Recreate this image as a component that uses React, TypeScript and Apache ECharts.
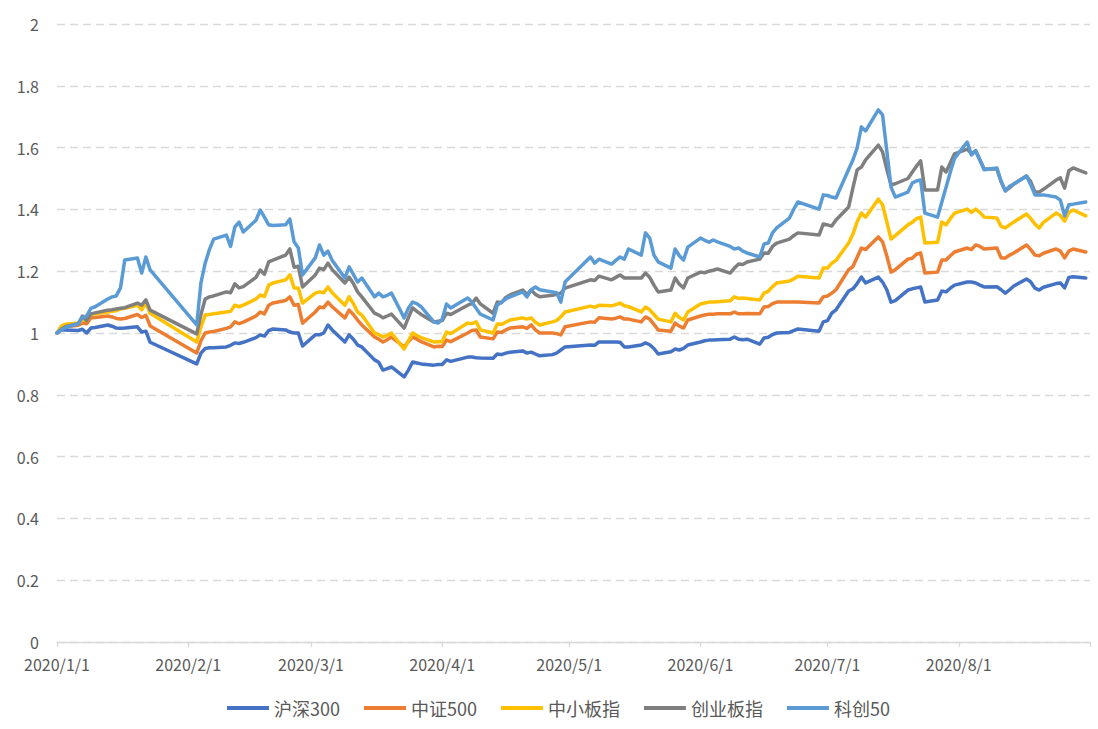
import React, { useEffect, useRef } from "react";
import * as echarts from "echarts";

const seriesNames = ["沪深300", "中证500", "中小板指", "创业板指", "科创50"];
const seriesColors = ["#4472C4", "#ED7D31", "#FFC000", "#7F7F7F", "#5B9BD5"];

const tradeDates = [
  "2020/1/1", "2020/1/2", "2020/1/3", "2020/1/6", "2020/1/7", "2020/1/8", "2020/1/9", "2020/1/10",
  "2020/1/13", "2020/1/14", "2020/1/15", "2020/1/16", "2020/1/17", "2020/1/20", "2020/1/21", "2020/1/22",
  "2020/1/23",
  "2020/2/3", "2020/2/4", "2020/2/5", "2020/2/6", "2020/2/7", "2020/2/10", "2020/2/11", "2020/2/12",
  "2020/2/13", "2020/2/14", "2020/2/17", "2020/2/18", "2020/2/19", "2020/2/20", "2020/2/21", "2020/2/24",
  "2020/2/25", "2020/2/26", "2020/2/27", "2020/2/28",
  "2020/3/2", "2020/3/3", "2020/3/4", "2020/3/5", "2020/3/6", "2020/3/9", "2020/3/10", "2020/3/11",
  "2020/3/12", "2020/3/13", "2020/3/16", "2020/3/17", "2020/3/18", "2020/3/19", "2020/3/20", "2020/3/23",
  "2020/3/24", "2020/3/25", "2020/3/26", "2020/3/27", "2020/3/30", "2020/3/31",
  "2020/4/1", "2020/4/2", "2020/4/3", "2020/4/7", "2020/4/8", "2020/4/9", "2020/4/10", "2020/4/13",
  "2020/4/14", "2020/4/15", "2020/4/16", "2020/4/17", "2020/4/20", "2020/4/21", "2020/4/22", "2020/4/23",
  "2020/4/24", "2020/4/27", "2020/4/28", "2020/4/29", "2020/4/30",
  "2020/5/6", "2020/5/7", "2020/5/8", "2020/5/11", "2020/5/12", "2020/5/13", "2020/5/14", "2020/5/15",
  "2020/5/18", "2020/5/19", "2020/5/20", "2020/5/21", "2020/5/22", "2020/5/25", "2020/5/26", "2020/5/27",
  "2020/5/28", "2020/5/29",
  "2020/6/1", "2020/6/2", "2020/6/3", "2020/6/4", "2020/6/5", "2020/6/8", "2020/6/9", "2020/6/10",
  "2020/6/11", "2020/6/12", "2020/6/15", "2020/6/16", "2020/6/17", "2020/6/18", "2020/6/19", "2020/6/22",
  "2020/6/23", "2020/6/24", "2020/6/29", "2020/6/30",
  "2020/7/1", "2020/7/2", "2020/7/3", "2020/7/6", "2020/7/7", "2020/7/8", "2020/7/9", "2020/7/10",
  "2020/7/13", "2020/7/14", "2020/7/15", "2020/7/16", "2020/7/17", "2020/7/20", "2020/7/21", "2020/7/22",
  "2020/7/23", "2020/7/24", "2020/7/27", "2020/7/28", "2020/7/29", "2020/7/30", "2020/7/31",
  "2020/8/3", "2020/8/4", "2020/8/5", "2020/8/6", "2020/8/7", "2020/8/10", "2020/8/11", "2020/8/12",
  "2020/8/13", "2020/8/14", "2020/8/17", "2020/8/18", "2020/8/19", "2020/8/20", "2020/8/21", "2020/8/24",
  "2020/8/25", "2020/8/26", "2020/8/27", "2020/8/28", "2020/8/31",
];

const hs300 = [
  1.0, 1.01, 1.01, 1.008, 1.012, 1.0, 1.016, 1.018, 1.026, 1.022, 1.016, 1.015, 1.016, 1.02, 1.003, 1.006, 0.97,
  0.9, 0.935, 0.95, 0.952, 0.952, 0.955, 0.96, 0.968, 0.966, 0.97, 0.985, 0.994, 0.99, 1.008, 1.013, 1.01, 1.003, 1.0, 1.0, 0.958,
  0.994, 0.994, 1.0, 1.026, 1.01, 0.971, 0.994, 0.98, 0.961, 0.955, 0.913, 0.905, 0.88, 0.885, 0.89, 0.858, 0.88, 0.906, 0.903, 0.9, 0.896, 0.898,
  0.898, 0.913, 0.908, 0.922, 0.922, 0.92, 0.919, 0.918, 0.932, 0.93, 0.935, 0.938, 0.942, 0.935, 0.938, 0.932, 0.926, 0.93, 0.935, 0.945, 0.955,
  0.961, 0.96, 0.971, 0.971, 0.971, 0.97, 0.955, 0.955, 0.961, 0.968, 0.962, 0.95, 0.932, 0.939, 0.948, 0.945, 0.95, 0.961,
  0.971, 0.975, 0.977, 0.977, 0.978, 0.98, 0.987, 0.98, 0.978, 0.98, 0.964, 0.984, 0.986, 0.995, 1.0, 1.002, 1.008, 1.013, 1.006, 1.036,
  1.04, 1.064, 1.075, 1.136, 1.143, 1.16, 1.181, 1.162, 1.181, 1.165, 1.14, 1.1, 1.105, 1.139, 1.143, 1.146, 1.149, 1.1, 1.107, 1.136, 1.133, 1.145, 1.155,
  1.165, 1.165, 1.162, 1.155, 1.149, 1.15, 1.14, 1.129, 1.14, 1.152, 1.175, 1.165, 1.145, 1.139, 1.148, 1.16, 1.162, 1.146, 1.18, 1.182, 1.178,
];

const zz500 = [
  1.0, 1.015, 1.02, 1.025, 1.032, 1.03, 1.049, 1.05, 1.055, 1.052, 1.047, 1.045, 1.047, 1.06, 1.05, 1.057, 1.023,
  0.935, 0.975, 1.0, 1.003, 1.005, 1.015, 1.02, 1.036, 1.03, 1.035, 1.055, 1.068, 1.062, 1.09, 1.097, 1.105, 1.117, 1.09, 1.092, 1.032,
  1.068, 1.084, 1.082, 1.1, 1.085, 1.049, 1.074, 1.06, 1.042, 1.026, 0.987, 0.98, 0.971, 0.978, 0.987, 0.955, 0.972, 0.987, 0.98, 0.972, 0.955, 0.957,
  0.956, 0.977, 0.972, 1.0, 1.008, 1.01, 0.987, 0.981, 1.003, 1.002, 1.01, 1.016, 1.02, 1.015, 1.026, 1.01, 1.0, 1.0, 0.998, 0.994, 1.02,
  1.036, 1.035, 1.049, 1.045, 1.048, 1.052, 1.045, 1.045, 1.036, 1.052, 1.045, 1.028, 1.01, 1.006, 1.032, 1.022, 1.016, 1.042,
  1.055, 1.058, 1.061, 1.061, 1.062, 1.062, 1.068, 1.062, 1.062, 1.063, 1.062, 1.084, 1.086, 1.095, 1.1, 1.1, 1.1, 1.1, 1.097, 1.117,
  1.12, 1.129, 1.14, 1.205, 1.215, 1.245, 1.275, 1.27, 1.311, 1.295, 1.25, 1.197, 1.205, 1.239, 1.242, 1.255, 1.259, 1.194, 1.197, 1.236, 1.236, 1.25, 1.262,
  1.275, 1.27, 1.285, 1.28, 1.272, 1.275, 1.243, 1.243, 1.252, 1.259, 1.285, 1.27, 1.252, 1.25, 1.258, 1.272, 1.265, 1.243, 1.265, 1.272, 1.262,
];

const zxb = [
  1.0, 1.022, 1.028, 1.032, 1.042, 1.04, 1.06, 1.062, 1.068, 1.07, 1.072, 1.078, 1.08, 1.09, 1.075, 1.097, 1.064,
  0.971, 1.02, 1.058, 1.06, 1.062, 1.068, 1.07, 1.09, 1.085, 1.09, 1.11, 1.123, 1.118, 1.155, 1.162, 1.172, 1.188, 1.146, 1.146, 1.097,
  1.129, 1.133, 1.13, 1.149, 1.13, 1.09, 1.117, 1.095, 1.068, 1.058, 1.0, 0.995, 0.987, 0.992, 1.0, 0.948, 0.975, 1.0, 0.992, 0.985, 0.971, 0.972,
  0.972, 1.003, 0.998, 1.032, 1.03, 1.036, 1.01, 1.0, 1.029, 1.028, 1.035, 1.042, 1.049, 1.045, 1.049, 1.035, 1.026, 1.036, 1.04, 1.052, 1.068,
  1.087, 1.083, 1.09, 1.088, 1.092, 1.097, 1.088, 1.085, 1.068, 1.084, 1.075, 1.06, 1.045, 1.036, 1.064, 1.05, 1.042, 1.068,
  1.094, 1.097, 1.1, 1.1, 1.101, 1.104, 1.117, 1.112, 1.113, 1.112, 1.107, 1.129, 1.135, 1.15, 1.162, 1.168, 1.175, 1.184, 1.178, 1.21,
  1.21, 1.226, 1.235, 1.291, 1.32, 1.36, 1.388, 1.375, 1.433, 1.415, 1.36, 1.304, 1.315, 1.35, 1.358, 1.37, 1.375, 1.291, 1.294, 1.359, 1.35, 1.37, 1.388,
  1.401, 1.39, 1.401, 1.39, 1.375, 1.372, 1.345, 1.34, 1.35, 1.359, 1.385, 1.37, 1.353, 1.34, 1.358, 1.388, 1.38, 1.362, 1.39, 1.398, 1.379,
];

const cyb = [
  1.0, 1.012, 1.02, 1.03, 1.055, 1.04, 1.062, 1.065, 1.074, 1.075, 1.078, 1.08, 1.082, 1.097, 1.09, 1.107, 1.074,
  0.997, 1.06, 1.11, 1.117, 1.12, 1.133, 1.13, 1.159, 1.146, 1.15, 1.18, 1.204, 1.19, 1.23, 1.236, 1.252, 1.272, 1.213, 1.216, 1.149,
  1.188, 1.21, 1.205, 1.226, 1.205, 1.162, 1.181, 1.16, 1.133, 1.117, 1.064, 1.058, 1.049, 1.055, 1.061, 1.016, 1.05, 1.081, 1.07, 1.06, 1.036, 1.038,
  1.04, 1.064, 1.06, 1.09, 1.095, 1.113, 1.094, 1.064, 1.1, 1.098, 1.115, 1.123, 1.139, 1.125, 1.139, 1.125, 1.117, 1.122, 1.125, 1.129, 1.145,
  1.172, 1.17, 1.184, 1.172, 1.18, 1.188, 1.178, 1.178, 1.178, 1.194, 1.18, 1.155, 1.133, 1.139, 1.178, 1.158, 1.146, 1.178,
  1.197, 1.195, 1.2, 1.203, 1.207, 1.194, 1.21, 1.223, 1.222, 1.23, 1.239, 1.259, 1.258, 1.28, 1.291, 1.304, 1.315, 1.324, 1.317, 1.353,
  1.35, 1.346, 1.366, 1.408, 1.47, 1.528, 1.537, 1.56, 1.608, 1.586, 1.53, 1.479, 1.483, 1.5, 1.52, 1.54, 1.557, 1.463, 1.463, 1.537, 1.521, 1.55, 1.58,
  1.595, 1.58, 1.59, 1.56, 1.531, 1.531, 1.49, 1.46, 1.47, 1.482, 1.508, 1.49, 1.456, 1.456, 1.465, 1.495, 1.502, 1.469, 1.525, 1.534, 1.518,
];

const kc50 = [
  1.0, 1.01, 1.018, 1.03, 1.05, 1.055, 1.08, 1.085, 1.11, 1.117, 1.12, 1.146, 1.236, 1.243, 1.194, 1.246, 1.204,
  1.026, 1.162, 1.226, 1.27, 1.304, 1.317, 1.28, 1.343, 1.359, 1.327, 1.365, 1.398, 1.375, 1.35, 1.348, 1.35, 1.369, 1.295, 1.275, 1.188,
  1.243, 1.285, 1.252, 1.265, 1.235, 1.178, 1.214, 1.19, 1.165, 1.178, 1.117, 1.129, 1.117, 1.122, 1.129, 1.049, 1.08, 1.1, 1.095, 1.085, 1.036, 1.032,
  1.045, 1.094, 1.081, 1.113, 1.1, 1.08, 1.061, 1.042, 1.09, 1.1, 1.11, 1.117, 1.133, 1.117, 1.14, 1.149, 1.14, 1.133, 1.13, 1.1, 1.165,
  1.246, 1.226, 1.239, 1.223, 1.235, 1.246, 1.239, 1.272, 1.252, 1.324, 1.307, 1.252, 1.23, 1.21, 1.272, 1.25, 1.236, 1.278,
  1.307, 1.3, 1.294, 1.301, 1.295, 1.28, 1.272, 1.275, 1.265, 1.259, 1.246, 1.288, 1.291, 1.324, 1.34, 1.372, 1.4, 1.424, 1.401, 1.447,
  1.445, 1.44, 1.437, 1.53, 1.56, 1.599, 1.667, 1.654, 1.722, 1.706, 1.59, 1.472, 1.44, 1.456, 1.485, 1.492, 1.495, 1.388, 1.375, 1.424, 1.472, 1.52, 1.565,
  1.618, 1.576, 1.589, 1.56, 1.528, 1.534, 1.49, 1.46, 1.475, 1.482, 1.508, 1.48, 1.447, 1.447, 1.447, 1.44, 1.43, 1.379, 1.415, 1.417, 1.424,
];

const seriesValues = [hs300, zz500, zxb, cyb, kc50];

const yTicks = { min: 0, max: 2, interval: 0.2 };

const FONT = "'Noto Sans CJK SC', 'Noto Sans', sans-serif";

function buildCategories(): string[] {
  const out: string[] = [];
  const t = new Date(2020, 0, 1);
  const end = new Date(2020, 8, 1);
  while (t <= end) {
    out.push(`${t.getFullYear()}/${t.getMonth() + 1}/${t.getDate()}`);
    t.setDate(t.getDate() + 1);
  }
  return out;
}

export default function App() {
  const ref = useRef<HTMLDivElement>(null);

  useEffect(() => {
    if (!ref.current) return;
    const chart = echarts.init(ref.current, undefined, { renderer: "svg" });
    const categories = buildCategories();
    const isMonthStart = (v: string) => v.split("/")[2] === "1";

    const series = seriesNames.map((name, si) => {
      const vals = seriesValues[si];
      const data = categories.map((c) => {
        const i = tradeDates.indexOf(c);
        return i >= 0 ? vals[i] : null;
      });
      return {
        name,
        type: "line",
        data,
        connectNulls: true,
        symbol: "none",
        smooth: false,
        lineStyle: { color: seriesColors[si], width: 3.5, cap: "round", join: "round" },
        itemStyle: { color: seriesColors[si] },
      };
    });

    chart.setOption({
      animation: false,
      backgroundColor: "#ffffff",
      textStyle: { fontFamily: FONT },
      grid: { left: 57, right: 8, top: 24, bottom: 87, containLabel: false },
      legend: {
        data: seriesNames,
        left: 227,
        top: 698,
        padding: 0,
        icon: "rect",
        itemWidth: 42,
        itemHeight: 4,
        itemGap: 24,
        textStyle: { color: "#595959", fontSize: 18, lineHeight: 20, fontFamily: FONT },
      },
      xAxis: {
        type: "category",
        data: categories,
        boundaryGap: false,
        axisLine: { show: true, lineStyle: { color: "#d9d9d9", width: 1.3 } },
        axisTick: {
          show: true,
          length: 5,
          inside: false,
          lineStyle: { color: "#d9d9d9", width: 1.3 },
          interval: (index: number, value: string) => isMonthStart(value),
        },
        axisLabel: {
          color: "#595959",
          fontSize: 16,
          lineHeight: 16,
          fontFamily: FONT,
          margin: 14,
          interval: (index: number, value: string) => isMonthStart(value) && index < categories.length - 1,
        },
        splitLine: { show: false },
      },
      yAxis: {
        type: "value",
        min: yTicks.min,
        max: yTicks.max,
        interval: yTicks.interval,
        axisLine: { show: false },
        axisTick: { show: false },
        axisLabel: {
          color: "#595959",
          fontSize: 16,
          lineHeight: 16,
          fontFamily: FONT,
          margin: 18,
          formatter: (v: number) => String(Math.round(v * 10) / 10),
        },
        splitLine: { show: true, lineStyle: { color: "#d9d9d9", width: 1.3, type: [8, 5] } },
      },
      series,
    });

    return () => chart.dispose();
  }, []);

  return (
    <div
      ref={ref}
      style={{ position: "absolute", left: 0, top: 0, width: 1098, height: 729, background: "#fff" }}
    />
  );
}
